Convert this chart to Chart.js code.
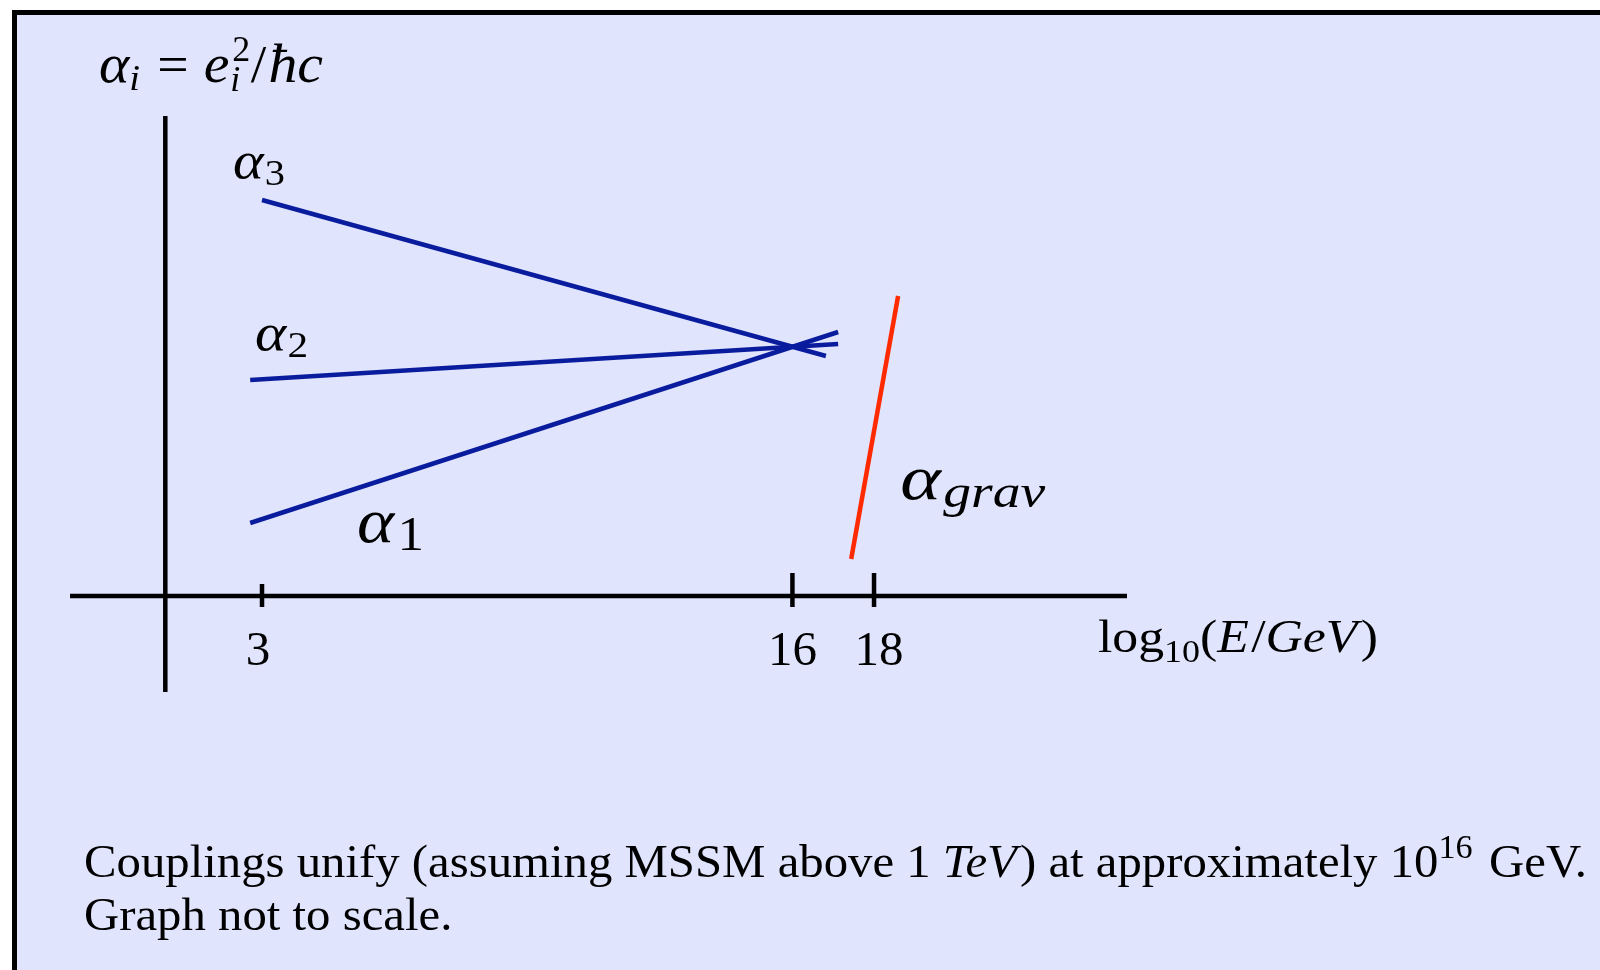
<!DOCTYPE html>
<html>
<head>
<meta charset="utf-8">
<script src="https://cdn.jsdelivr.net/npm/chart.js@4"></script>
<style>
  html, body { margin: 0; padding: 0; background: #fff; }
  #frame {
    position: absolute; left: 12px; top: 10px; right: -20px; bottom: -20px;
    background: #e0e4fc; border-top: 5px solid #000; border-left: 5px solid #000;
  }
  #wrap { position: absolute; left: 0; top: 0; width: 1600px; height: 970px; }
</style>
</head>
<body>
<div id="frame"></div>
<div id="wrap"><canvas id="unifyChart"></canvas></div>
<script>
// log10(E/GeV) positions of the marked ticks
const xTicks = [3, 16, 18];
// coupling lines (arbitrary units, graph not to scale)
const alpha3 = [{ x: 3.0, y: 39.6 }, { x: 16.82, y: 24.0 }];
const alpha2 = [{ x: 2.71, y: 21.6 }, { x: 17.12, y: 25.2 }];
const alpha1 = [{ x: 2.71, y: 7.3 }, { x: 17.12, y: 26.4 }];
const alphaGrav = [{ x: 17.44, y: 3.7 }, { x: 18.59, y: 30.0 }];
const captionLine2 = 'Graph not to scale.';

const SERIF = '"Liberation Serif", "DejaVu Serif", serif';
const BLUE = '#0a1c9e';

function f(size, italic) {
  return `${italic ? 'italic ' : ''}${size}px ${SERIF}`;
}

function runsWidth(ctx, runs) {
  let w = 0;
  runs.forEach((r) => {
    ctx.font = r.font;
    w += ctx.measureText(r.t).width + (r.gap || 0);
  });
  return w;
}

// draw text pieces from x on baseline y, stretched to a target width
function drawRuns(ctx, x, y, runs, target) {
  const w = runsWidth(ctx, runs);
  const sx = target ? target / w : 1;
  ctx.save();
  ctx.translate(x, y);
  ctx.scale(sx, 1);
  let cx = 0;
  runs.forEach((r) => {
    ctx.font = r.font;
    ctx.fillText(r.t, cx, r.dy || 0);
    cx += ctx.measureText(r.t).width + (r.gap || 0);
  });
  ctx.restore();
  return sx;
}

const axesPlugin = {
  id: 'axesPlugin',
  afterDraw(chart) {
    const { ctx, chartArea, scales } = chart;
    const xs = scales.x;
    const ys = scales.y;
    const px = (v) => xs.getPixelForValue(v);
    const py = (v) => ys.getPixelForValue(v);
    const y0 = py(0);
    ctx.save();
    ctx.strokeStyle = '#000';
    ctx.fillStyle = '#000';
    ctx.lineWidth = 4.5;
    ctx.beginPath();
    ctx.moveTo(chartArea.left, y0);
    ctx.lineTo(chartArea.right, y0);
    ctx.moveTo(px(0.63), chartArea.top);
    ctx.lineTo(px(0.63), chartArea.bottom);
    ctx.stroke();

    // tick marks and labels
    ctx.textBaseline = 'alphabetic';
    xTicks.forEach((t) => {
      const x = px(t);
      const up = t === 3 ? 12 : 23;
      ctx.beginPath();
      ctx.moveTo(x, y0 - up);
      ctx.lineTo(x, y0 + 11);
      ctx.stroke();
      ctx.font = f(49, false);
      ctx.textAlign = 'center';
      ctx.fillText(String(t), x + (t === 3 ? -4 : (t === 18 ? 5 : 0)), y0 + 69);
    });
    ctx.textAlign = 'left';

    // y axis title: alpha_i = e_i^2 / hbar c
    drawRuns(ctx, 99, 82, [
      { t: 'α', font: f(54, true) },
      { t: 'i', font: f(36, true), dy: 8, gap: 16 },
      { t: '=', font: f(52, false), gap: 14 },
      { t: 'e', font: f(54, true) },
      { t: '', font: f(36, true), gap: 20 },
      { t: '/', font: f(52, false), gap: 2 },
      { t: 'ħc', font: f(54, true) },
    ], 224);
    // stacked sub/superscript on e (same stretch as the title)
    ctx.font = f(54, true);
    const wa = runsWidth(ctx, [
      { t: 'α', font: f(54, true) },
      { t: 'i', font: f(36, true), gap: 16 },
      { t: '=', font: f(52, false), gap: 14 },
      { t: 'e', font: f(54, true) },
    ]);
    const wAll = runsWidth(ctx, [
      { t: 'α', font: f(54, true) },
      { t: 'i', font: f(36, true), gap: 16 },
      { t: '=', font: f(52, false), gap: 14 },
      { t: 'e', font: f(54, true) },
      { t: '', font: f(36, true), gap: 20 },
      { t: '/', font: f(52, false), gap: 2 },
      { t: 'ħc', font: f(54, true) },
    ]);
    const sxT = 224 / wAll;
    ctx.font = f(36, true);
    ctx.fillText('i', 99 + wa * sxT + 1, 82 + 9);
    ctx.font = f(36, false);
    ctx.fillText('2', 99 + wa * sxT + 3, 82 - 21);

    // x axis title
    drawRuns(ctx, 1098, 652, [
      { t: 'log', font: f(46, false) },
      { t: '10', font: f(32, false), dy: 10 },
      { t: '(', font: f(46, false) },
      { t: 'E', font: f(46, true), gap: 2 },
      { t: '/', font: f(46, false) },
      { t: 'GeV', font: f(46, true), gap: 3 },
      { t: ')', font: f(46, false) },
    ], 280);

    // series labels
    drawRuns(ctx, px(2.29), py(41.6) - 2, [
      { t: 'α', font: f(52, true), gap: 1 },
      { t: '3', font: f(36, false), dy: 7 },
    ], 52);
    drawRuns(ctx, px(2.83), py(24.4) - 2, [
      { t: 'α', font: f(52, true), gap: 1 },
      { t: '2', font: f(36, false), dy: 7 },
    ], 53);
    drawRuns(ctx, px(5.33), py(5.1) - 3, [
      { t: 'α', font: f(64, true), gap: 3 },
      { t: '1', font: f(48, false), dy: 8 },
    ], 67);
    drawRuns(ctx, px(18.64), py(9.4) - 3, [
      { t: 'α', font: f(64, true), gap: 2 },
      { t: 'grav', font: f(46, true), dy: 8 },
    ], 145);

    // caption
    const capFont = f(47, false);
    const capRuns = [
      { t: 'Couplings unify (assuming MSSM above 1 ', font: capFont },
      { t: 'TeV', font: f(47, true), gap: 3 },
      { t: ') at approximately 10', font: capFont },
      { t: '16', font: f(33, false), dy: -19, gap: 4 },
      { t: ' GeV.', font: capFont },
    ];
    const sx = drawRuns(ctx, 84, 877, capRuns, 1503);
    ctx.save();
    ctx.translate(84, 930);
    ctx.scale(sx, 1);
    ctx.font = capFont;
    ctx.fillText(captionLine2, 0, 0);
    ctx.restore();
    ctx.restore();
  }
};

const lineDs = (data, color, w) => ({
  data, borderColor: color, borderWidth: w, pointRadius: 0,
  showLine: true, fill: false, tension: 0, borderCapStyle: 'butt'
});

new Chart(document.getElementById('unifyChart'), {
  type: 'scatter',
  data: {
    datasets: [
      lineDs(alpha3, BLUE, 4.5),
      lineDs(alpha2, BLUE, 4.5),
      lineDs(alpha1, BLUE, 4.5),
      lineDs(alphaGrav, '#ff2a00', 4.5),
    ],
  },
  options: {
    responsive: true,
    maintainAspectRatio: false,
    animation: false,
    layout: { padding: { left: 70, right: 473, top: 116, bottom: 278 } },
    plugins: { legend: { display: false }, tooltip: { enabled: false } },
    scales: {
      x: { type: 'linear', min: -1.706, max: 24.2, display: false },
      y: { type: 'linear', min: -9.6, max: 48, display: false },
    },
  },
  plugins: [axesPlugin],
});
</script>
</body>
</html>
